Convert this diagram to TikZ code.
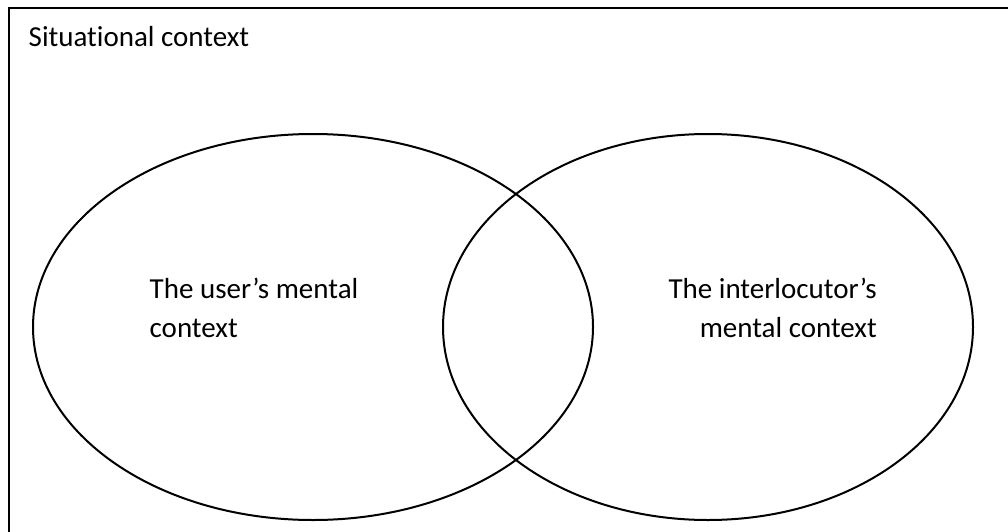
\documentclass[tikz,border=0pt]{standalone}
\usepackage{fontspec}
\setmainfont[Ligatures=NoCommon]{Carlito}
\usetikzlibrary{shapes.geometric}
\begin{document}
\begin{tikzpicture}[x=1pt,y=-1pt,
  lbl/.style={inner sep=0pt, font=\fontsize{29}{39}\selectfont},
  venn/.style={draw, line width=2pt, ellipse, inner sep=0pt},
  framebox/.style={draw, line width=2pt}]
\useasboundingbox (0,0) rectangle (1008,532);
\begin{scope}
\clip (0,0) rectangle (1008,532);
\draw[framebox] (9,8) rectangle (1020,545);
\end{scope}
\node[venn, minimum width=560pt, minimum height=386pt] (user) at (313,327) {};
\node[venn, minimum width=530pt, minimum height=386pt] (inter) at (708,327) {};
\node[lbl, anchor=base west] (sit) at (28.5,47) {Situational context};
\node[lbl, anchor=base west] (u1) at (149.5,298) {The user’s mental};
\node[lbl, anchor=base west] (u2) at (149.5,337) {context};
\node[lbl, anchor=base east] (i1) at (877,298) {The interlocutor’s};
\node[lbl, anchor=base east] (i2) at (877,337) {mental context};
\end{tikzpicture}
\end{document}
